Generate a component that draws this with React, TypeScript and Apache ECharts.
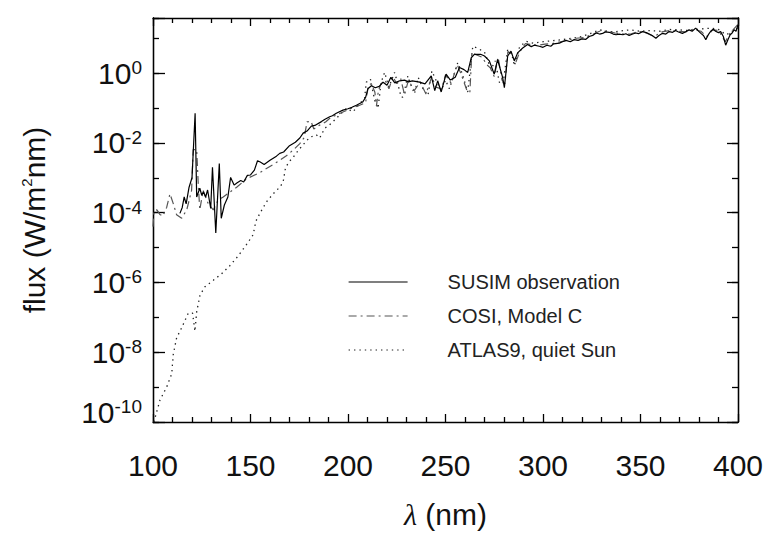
import React, { useEffect, useRef } from "react";
import * as echarts from "echarts";

// wavelength (nm), log10 of flux (W/m^2 nm)
const susimData: [number, number][] = [
  [113.8, -4.02], [115, -3.85], [116, -3.55], [117, -3.75], [118.5, -3.27], [120, -3.0], [121.6, -1.15],
  [122.4, -3.55], [124, -3.3], [125, -3.5], [125.8, -3.4], [127, -3.55], [128, -3.35], [129.6, -3.88],
  [130.5, -2.7], [132.2, -4.58], [134, -2.59], [135, -4.16], [136.6, -3.78], [138.4, -3.55], [139.8, -2.99],
  [141.6, -3.21], [143, -3.15], [145, -3.08], [146.5, -3.12], [148.4, -2.93], [150, -2.92], [152, -2.78],
  [153.6, -2.51], [155, -2.55], [157, -2.62], [160, -2.5], [163.3, -2.38], [165, -2.3], [167, -2.26],
  [170, -2.08], [173, -1.98], [175.3, -1.86], [177, -1.72], [179, -1.66], [181.2, -1.52], [183, -1.5],
  [186.4, -1.39], [188, -1.33], [190.6, -1.25], [192, -1.22], [194, -1.15], [197.4, -1.06], [200, -1.02],
  [202, -0.98], [204.3, -0.92], [207.5, -0.83], [209, -0.7], [210.2, -0.45], [212, -0.36], [214, -0.42],
  [216, -0.38], [218, -0.26], [220, -0.35], [222, -0.12], [224, -0.28], [226.5, -0.22], [229, -0.2],
  [231, -0.25], [233, -0.22], [236.7, -0.26], [239.5, -0.31], [242.7, -0.08], [244.5, -0.5], [246, -0.22],
  [247.8, -0.54], [250.3, -0.03], [252.5, -0.2], [255, -0.12], [257.2, 0.16], [259.5, 0.1], [261.4, 0.02],
  [263.2, 0.44], [264.8, 0.54], [268, 0.54], [270, 0.49], [272.5, 0.35], [275, -0.03], [276.7, 0.39],
  [279.3, -0.12], [280.2, -0.42], [281.9, 0.49], [283.6, 0.63], [285.3, 0.35], [287, 0.58], [289.6, 0.72],
  [292.1, 0.82], [294, 0.76], [295.5, 0.8], [298.1, 0.77], [300, 0.74], [302, 0.8], [304, 0.77],
  [305.5, 0.84], [308.4, 0.86], [310, 0.9], [311.8, 0.94], [314, 0.9], [316, 0.96], [318, 0.94],
  [320, 0.98], [322, 0.97], [323.7, 1.05], [325.5, 1.08], [327.2, 1.15], [329, 1.12], [330.6, 1.14],
  [332, 1.18], [334, 1.17], [336, 1.12], [337.5, 1.1], [339, 1.12], [341, 1.1], [342.5, 1.13],
  [344.2, 1.08], [346, 1.12], [347.6, 1.15], [349, 1.13], [351, 1.19], [353, 1.16], [354.5, 1.12],
  [356, 1.08], [357.9, 1.0], [359.5, 1.08], [361.3, 1.14], [363, 1.12], [364.7, 1.19], [366.5, 1.17],
  [368, 1.22], [369.5, 1.18], [371.5, 1.14], [373, 1.18], [374.9, 1.24], [376.5, 1.2], [378.3, 1.29],
  [379.5, 1.22], [381, 1.14], [382.3, 1.08], [383.5, 0.96], [385, 1.12], [386, 1.2], [387.3, 1.26],
  [388.5, 1.2], [390, 1.16], [391.1, 1.19], [392.5, 1.05], [393.7, 0.8], [395, 0.98], [396, 1.1],
  [397, 1.15], [398, 1.24], [399, 1.2], [400, 1.38],
];

const cosiData: [number, number][] = [
  [100, -4.4], [100.5, -3.95], [102, -3.92], [103.5, -4.05], [105, -4.1], [107, -3.85], [108.7, -3.46],
  [110.4, -3.74], [112.1, -4.06], [114.7, -4.16], [117.3, -3.92], [119.8, -3.36], [120.6, -2.19],
  [122.4, -2.19], [123.2, -3.17], [124, -3.92], [125.7, -3.36], [128.3, -3.74], [130.9, -3.92],
  [133.4, -3.64], [136, -3.55], [139.4, -3.41], [142.9, -3.27], [148, -3.03], [154.8, -2.85],
  [161.6, -2.62], [165, -2.5], [168.4, -2.37], [172, -2.2], [175.3, -2.02], [177.5, -1.85], [179, -1.4],
  [181, -1.38], [182.5, -1.6], [186, -1.47], [188.5, -1.4], [191, -1.28], [194, -1.2], [198, -1.1],
  [202, -1.0], [206, -0.92], [209, -0.85], [210.5, -0.35], [212, -0.3], [213.8, -0.55], [214.6, -0.94],
  [215.6, -0.5], [217, -0.3], [219, -0.2], [221, -0.45], [223, -0.1], [225, -0.3], [227, -0.15],
  [229, -0.62], [231, -0.2], [234, -0.5], [237, -0.25], [240, -0.6], [243, -0.1], [245, -0.4],
  [248, -0.45], [250, -0.05], [253, -0.3], [256, 0.25], [258.5, -0.1], [261, -0.5], [262.5, -0.55],
  [263.5, 0.58], [266, 0.52], [269, 0.45], [271, 0.25], [273, 0.15], [275, -0.1], [277, 0.45],
  [279, -0.2], [280.5, -0.3], [282, 0.62], [284, 0.55], [286, 0.3], [288, 0.6], [291, 0.85], [294, 0.82],
  [297, 0.8], [301, 0.83], [305, 0.85], [309, 0.9], [313, 0.95], [317, 1.0], [321, 1.02], [325, 1.1],
  [329, 1.2], [333, 1.2], [337, 1.15], [341, 1.12], [345, 1.12], [349, 1.2], [353, 1.15], [357, 1.05],
  [361, 1.18], [365, 1.22], [369, 1.2], [373, 1.18], [377, 1.26], [381, 1.2], [384, 1.05], [387, 1.24],
  [390, 1.22], [393.5, 0.9], [396, 1.15], [400, 1.4],
];

const atlasData: [number, number][] = [
  [100.5, -10.0], [101, -9.89], [103.6, -9.37], [107, -9.0], [109.6, -8.62], [110.4, -8.06], [112.1, -7.59],
  [114.7, -7.3], [118.1, -6.88], [120.3, -6.88], [121.5, -7.4], [122.4, -6.84], [124.1, -6.37],
  [126.5, -6.13], [130.9, -5.94], [135.2, -5.75], [139.4, -5.52], [143.7, -5.24], [148, -4.91],
  [151.4, -4.63], [152.7, -4.25], [154.8, -4.02], [158.2, -3.69], [161.6, -3.46], [165, -3.27],
  [166.7, -3.13], [168, -2.7], [170.1, -2.52], [171.8, -2.42], [173.6, -2.28], [177, -2.05], [180.4, -1.84],
  [183.8, -1.77], [185.5, -1.86], [188.1, -1.58], [190.6, -1.48], [194, -1.3], [196.6, -1.15],
  [199.2, -1.01], [202.6, -1.11], [206, -0.87], [208.5, -0.73], [209.4, -0.26], [211.5, -0.17],
  [213.7, -0.78], [215.4, -1.01], [217, -0.26], [218.8, 0.02], [221, -0.4], [223.9, 0.02], [225.5, -0.3],
  [227.3, -0.69], [228.2, -0.69], [230.7, -0.08], [232, -0.3], [234.1, -0.59], [236, -0.12], [238.5, -0.45],
  [241, -0.64], [243, 0.06], [245.5, -0.25], [247.8, -0.5], [250, -0.2], [252, -0.45], [256.3, 0.3],
  [258.5, 0.0], [261.4, -0.54], [264, 0.77], [267, 0.7], [270, 0.6], [273.4, 0.11], [275.5, 0.35],
  [277.6, -0.26], [279.5, -0.31], [281.9, 0.68], [284, 0.55], [285.3, 0.21], [288, 0.75], [291.3, 0.91],
  [295, 0.86], [300, 0.9], [305, 0.93], [310, 0.96], [315, 1.0], [320, 1.05], [325, 1.15], [328.9, 1.24],
  [333, 1.2], [337, 1.18], [341, 1.22], [345, 1.24], [350, 1.2], [355, 1.22], [360, 1.2], [365, 1.25],
  [370, 1.24], [375, 1.22], [380, 1.26], [386, 1.29], [390, 1.25], [394, 1.1], [397, 1.2], [400, 1.3],
];

const seriesNames = ["SUSIM observation", "COSI, Model C", "ATLAS9, quiet Sun"];
const xRange = [100, 400];
const yLogRange = [-10, 1.58];

const FONT = "'Liberation Sans', Arial, Helvetica, sans-serif";
const INK = "#111";
const axisLineStyle = { color: "#000", width: 1.3 };

function yLabel(v: number): string {
  const r = Math.round(v);
  if (Math.abs(v - r) > 1e-6 || r % 2 !== 0) return "";
  if (r === yLogRange[0]) return `{b|10}{s|${r}}\n{gap| }`;
  return `{b|10}{s|${r}}`;
}

export default function App() {
  const ref = useRef<HTMLDivElement>(null);
  useEffect(() => {
    if (!ref.current) return;
    const chart = echarts.init(ref.current, undefined, { renderer: "svg" });
    const xBase = {
      type: "value",
      min: xRange[0],
      max: xRange[1],
      interval: 50,
      axisLine: { show: true, onZero: false, lineStyle: axisLineStyle },
      axisTick: { show: true, inside: true, length: 8, lineStyle: axisLineStyle },
      minorTick: { show: true, splitNumber: 5, length: 5, lineStyle: axisLineStyle },
      splitLine: { show: false },
      minorSplitLine: { show: false },
    };
    const yBase = (interval: number, len: number, pos: string) => ({
      type: "value",
      min: yLogRange[0],
      max: yLogRange[1],
      interval,
      position: pos,
      axisLine: { show: true, onZero: false, lineStyle: axisLineStyle },
      axisTick: { show: true, inside: true, length: len, lineStyle: axisLineStyle },
      splitLine: { show: false },
      axisLabel: { show: false },
    });
    const option: any = {
      animation: false,
      backgroundColor: "#fff",
      textStyle: { fontFamily: FONT },
      grid: { left: 153, right: 27, top: 18, bottom: 106, containLabel: false },
      legend: {
        orient: "vertical",
        left: 348,
        top: 272,
        padding: 0,
        itemWidth: 59,
        itemHeight: 14,
        itemGap: 14,
        selectedMode: false,
        data: seriesNames,
        itemStyle: { opacity: 0, borderWidth: 0 },
        lineStyle: { width: 1.2 },
        textStyle: { fontFamily: FONT, fontSize: 20, lineHeight: 20, color: "#222", padding: [0, 0, 0, 35] },
      },
      xAxis: [
        {
          ...xBase,
          position: "bottom",
          axisLabel: { show: true, fontSize: 30, margin: 28, color: INK, fontFamily: FONT },
          name: "{l|λ} (nm)",
          nameLocation: "middle",
          nameGap: 77,
          nameTextStyle: {
            fontSize: 30,
            color: INK,
            fontFamily: FONT,
            rich: { l: { fontSize: 30, fontStyle: "italic", fontFamily: "'Liberation Serif', 'DejaVu Serif', serif", color: INK } },
          },
        },
        { ...xBase, position: "top", axisLabel: { show: false } },
      ],
      yAxis: [
        {
          ...yBase(2, 12, "left"),
          axisLabel: {
            show: true,
            margin: 11,
            formatter: yLabel,
            rich: {
              b: { fontSize: 30, lineHeight: 30, color: INK, fontFamily: FONT },
              s: { fontSize: 19, lineHeight: 12, verticalAlign: "top", color: INK, fontFamily: FONT },
              gap: { fontSize: 10, lineHeight: 20 },
            },
          },
          name: "{t|flux (W/m}{s|2}{t|nm)}",
          nameLocation: "middle",
          nameRotate: 90,
          nameGap: 104,
          nameTextStyle: {
            rich: {
              t: { fontSize: 30, lineHeight: 30, color: INK, fontFamily: FONT },
              s: { fontSize: 15, lineHeight: 10, verticalAlign: "top", color: INK, fontFamily: FONT },
            },
          },
        },
        yBase(1, 6, "left"),
        yBase(2, 11, "right"),
        yBase(1, 6, "right"),
      ],
      series: [
        {
          type: "line",
          name: seriesNames[0],
          data: susimData,
          symbol: "none",
          showSymbol: false,
          xAxisIndex: 0,
          yAxisIndex: 0,
          z: 4,
          lineStyle: { color: "#000", width: 1.2 },
          itemStyle: { color: "#000" },
        },
        {
          type: "line",
          name: seriesNames[1],
          data: cosiData,
          symbol: "none",
          showSymbol: false,
          xAxisIndex: 0,
          yAxisIndex: 0,
          z: 3,
          lineStyle: { color: "#555", width: 1.2, type: [8, 4, 2, 4] },
          itemStyle: { color: "#555" },
        },
        {
          type: "line",
          name: seriesNames[2],
          data: atlasData,
          symbol: "none",
          showSymbol: false,
          xAxisIndex: 0,
          yAxisIndex: 0,
          z: 2,
          lineStyle: { color: "#222", width: 1.3, type: [1.4, 4] },
          itemStyle: { color: "#222" },
        },
      ],
    };
    chart.setOption(option);
    return () => chart.dispose();
  }, []);
  return (
    <div
      ref={ref}
      style={{ position: "fixed", left: 0, top: 0, width: 766, height: 534, background: "#fff" }}
    />
  );
}
